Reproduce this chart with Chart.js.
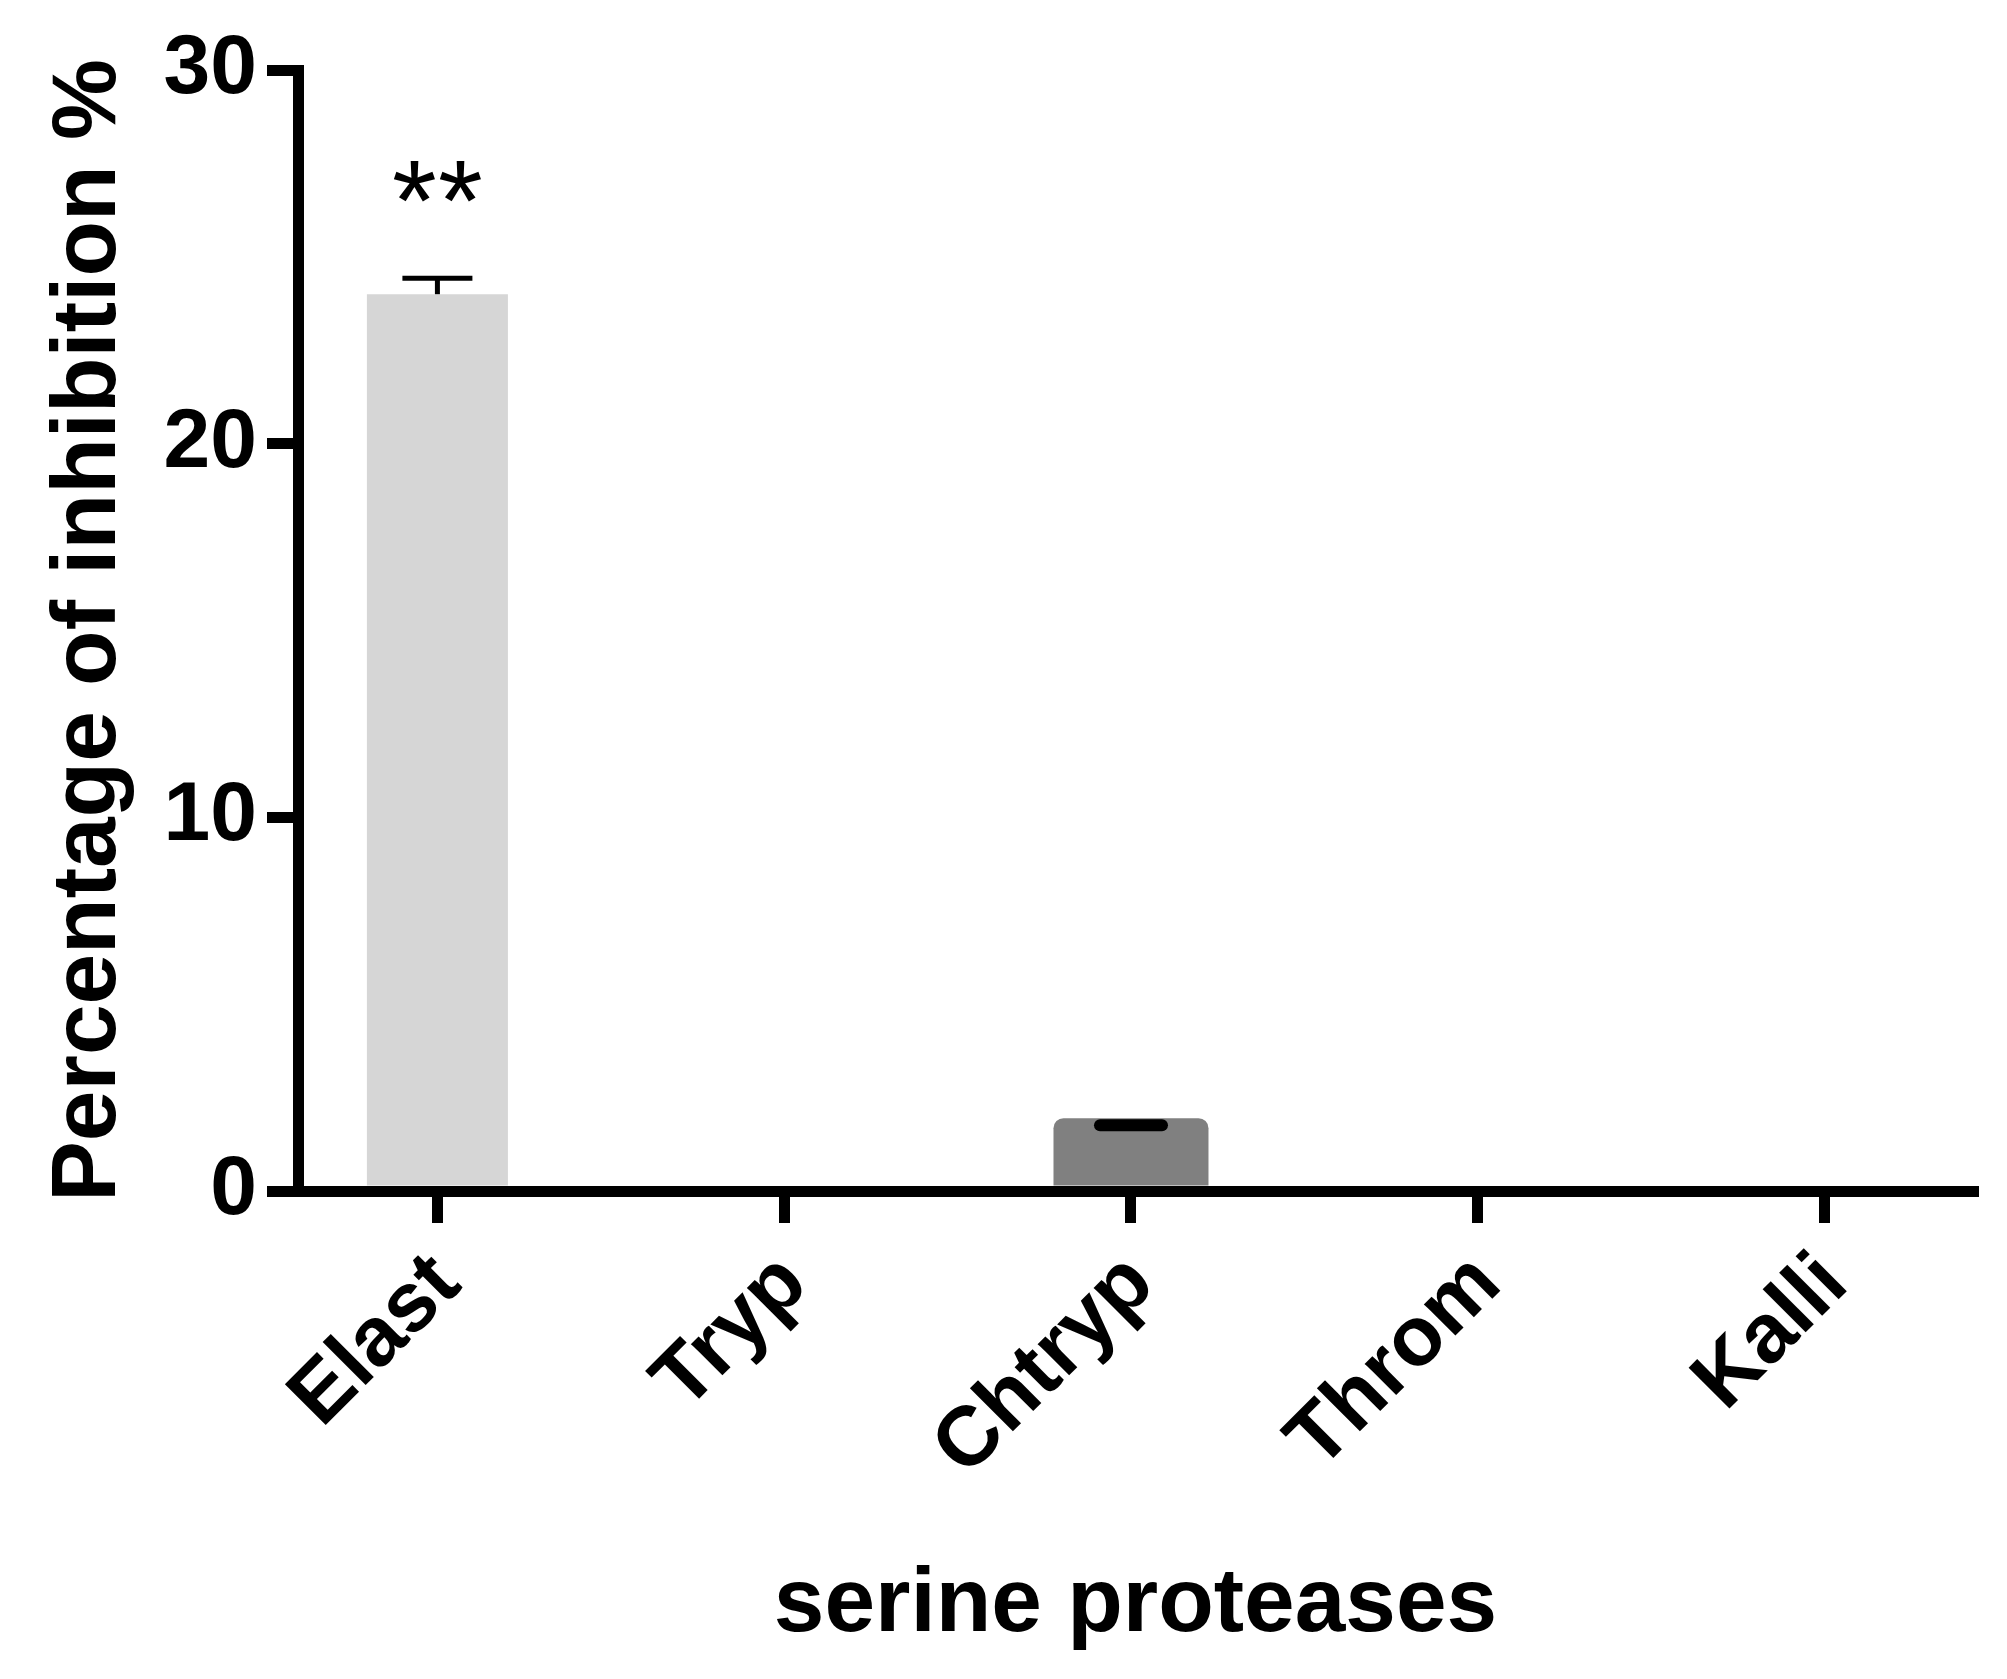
<!DOCTYPE html>
<html>
<head>
<meta charset="utf-8">
<style>
  body { margin: 0; padding: 0; background: #ffffff; }
  #wrap { width: 2007px; height: 1679px; }
</style>
</head>
<body>
<div id="wrap"><canvas id="chart" width="2007" height="1679"></canvas></div>

<script src="https://cdn.jsdelivr.net/npm/chart.js"></script>
<script>
// values
const categories = ['Elast', 'Tryp', 'Chtryp', 'Throm', 'Kalli'];
const inhibition = [24.0, 0, 1.95, 0, 0];
const errorTop = [24.43, null, 1.76, null, null];
const significance = ['**', '', '', '', ''];
const yTicks = [0, 10, 20, 30];

// look of each bar
const barColors = ['#d6d6d6', '#b4b4b4', '#808080', '#666666', '#4d4d4d'];
const barWidths = [141, 150, 155, 150, 150];
const barRadius = [0, 0, 10, 0, 0];
const capStyle = [{ w: 5, half: 35 }, null, { w: 12, half: 37 }, null, null];

const FONT = "'Liberation Sans', Arial, Helvetica, sans-serif";

// error bars + significance stars
const errorBars = {
  id: 'errorBars',
  afterDatasetsDraw(chart) {
    const ctx = chart.ctx;
    const yScale = chart.scales.y;
    ctx.save();
    ctx.strokeStyle = '#000';
    ctx.fillStyle = '#000';
    categories.forEach((c, i) => {
      const bar = chart.getDatasetMeta(i).data[0];
      if (!bar) return;
      let topY = bar.y;
      if (errorTop[i] != null) {
        const yc = yScale.getPixelForValue(errorTop[i]);
        const st = capStyle[i];
        const round = st.w > 8;
        if (errorTop[i] > inhibition[i]) {
          ctx.lineWidth = st.w;
          ctx.lineCap = 'butt';
          ctx.beginPath();
          ctx.moveTo(bar.x, bar.y);
          ctx.lineTo(bar.x, yc);
          ctx.stroke();
        }
        ctx.lineWidth = st.w;
        ctx.lineCap = round ? 'round' : 'butt';
        ctx.beginPath();
        ctx.moveTo(bar.x - st.half + (round ? st.w / 2 : 0), yc);
        ctx.lineTo(bar.x + st.half - (round ? st.w / 2 : 0), yc);
        ctx.stroke();
        topY = Math.min(topY, yc);
      }
      if (significance[i]) {
        // one star per character, spread a little
        const chars = significance[i].split('');
        const gap = 46;
        ctx.font = '115px ' + FONT;
        ctx.textAlign = 'center';
        ctx.textBaseline = 'middle';
        chars.forEach((ch, k) => {
          const dx = (k - (chars.length - 1) / 2) * gap;
          ctx.fillText(ch, bar.x + dx, topY - 70);
        });
      }
    });
    ctx.restore();
  }
};

const datasets = categories.map((c, i) => ({
  label: c,
  data: [{ x: i, y: inhibition[i] }],
  backgroundColor: barColors[i],
  borderWidth: 0,
  inflateAmount: 0,
  barThickness: barWidths[i],
  borderRadius: { topLeft: barRadius[i], topRight: barRadius[i], bottomLeft: 0, bottomRight: 0 },
  borderSkipped: 'start',
  grouped: false
}));

new Chart(document.getElementById('chart'), {
  type: 'bar',
  data: { datasets: datasets },
  options: {
    responsive: false,
    animation: false,
    devicePixelRatio: 1,
    layout: { padding: { left: 0, right: 34, top: 70, bottom: 0 } },
    plugins: {
      legend: { display: false },
      tooltip: { enabled: false }
    },
    scales: {
      x: {
        type: 'linear',
        offset: false,
        min: -0.402,
        max: 4.428,
        afterBuildTicks: (scale) => { scale.ticks = categories.map((c, i) => ({ value: i })); },
        afterFit: (scale) => { scale.height = 488; },
        ticks: {
          autoSkip: false,
          minRotation: 45,
          maxRotation: 45,
          padding: 12,
          labelOffset: 10,
          color: '#000',
          font: { family: FONT, size: 84, weight: 'bold' },
          callback: (v) => categories[v]
        },
        grid: {
          offset: false,
          drawOnChartArea: false,
          drawTicks: true,
          tickLength: 32,
          tickWidth: 11,
          lineWidth: 11,
          color: '#000'
        },
        border: { display: true, width: 11, color: '#000' },
        title: {
          display: true,
          text: 'serine proteases',
          color: '#000',
          font: { family: FONT, size: 91, weight: 'bold' },
          padding: { top: 0, bottom: 18 }
        }
      },
      y: {
        min: 0,
        max: 30,
        afterBuildTicks: (scale) => { scale.ticks = yTicks.map(v => ({ value: v })); },
        afterFit: (scale) => { scale.width = 298; },
        ticks: {
          padding: 10,
          color: '#000',
          font: { family: FONT, size: 84, weight: 'bold' }
        },
        grid: {
          drawOnChartArea: false,
          drawTicks: true,
          tickLength: 31,
          tickWidth: 11,
          lineWidth: 11,
          color: '#000'
        },
        border: { display: true, width: 11, color: '#000' },
        title: {
          display: true,
          text: 'Percentage of inhibition %',
          color: '#000',
          font: { family: FONT, size: 91, weight: 'bold' },
          padding: { top: 35, bottom: 0 }
        }
      }
    }
  },
  plugins: [errorBars]
});
</script>
</body>
</html>
